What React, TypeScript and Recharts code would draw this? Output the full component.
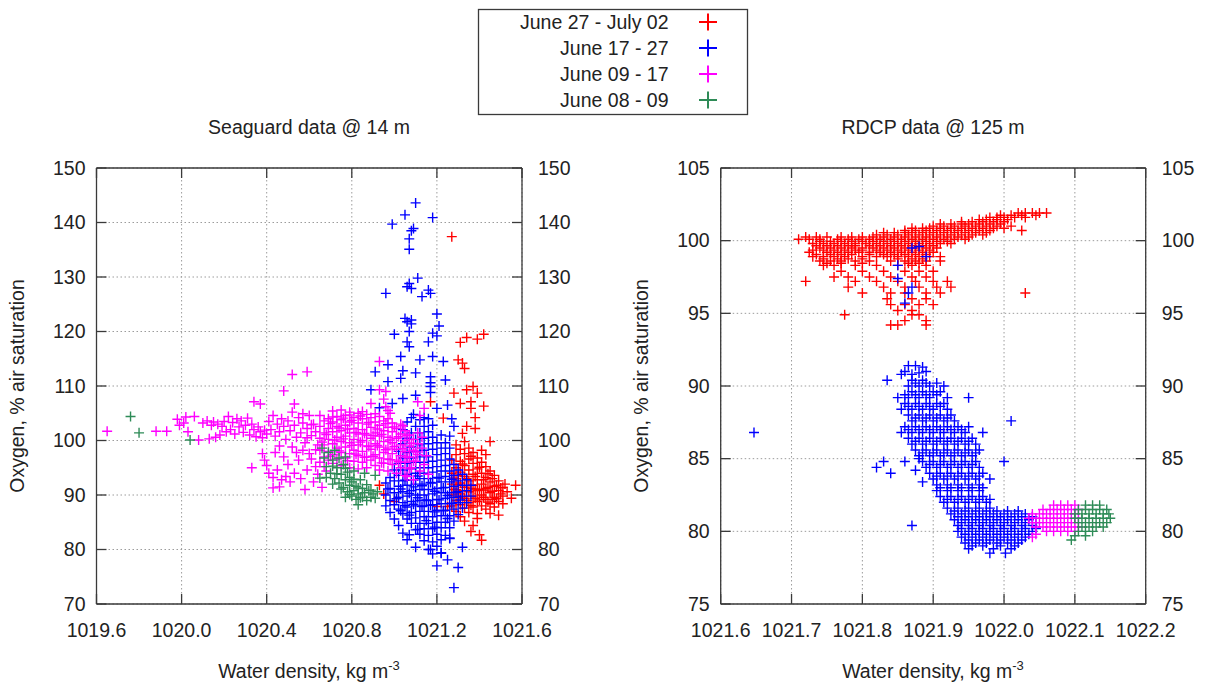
import React from "react";
import { CartesianGrid, Scatter, ScatterChart, XAxis, YAxis } from "recharts";

type Pt = [number, number];

// legend order = drawing order
const seriesNames = ["June 27 - July 02", "June 17 - 27", "June 09 - 17", "June 08 - 09"];
const seriesColors = ["#ff0000", "#0000ff", "#ff00ff", "#2e8b57"];

const panelTitles = ["Seaguard data @ 14 m", "RDCP data @ 125 m"];

const seaguardDensityTicks = [1019.6, 1020.0, 1020.4, 1020.8, 1021.2, 1021.6];
const seaguardOxygenTicks = [70, 80, 90, 100, 110, 120, 130, 140, 150];
const rdcpDensityTicks = [1021.6, 1021.7, 1021.8, 1021.9, 1022.0, 1022.1, 1022.2];
const rdcpOxygenTicks = [75, 80, 85, 90, 95, 100, 105];

// ---- Seaguard @ 14 m : [density, oxygen] ----
const seaguardRed: Pt[] = [
  [1021.27, 137.4], [1021.42, 119.5], [1021.39, 118.6], [1021.34, 118.9], [1021.31, 118.0], [1021.30, 114.8],
  [1021.32, 114.2], [1021.33, 113.2], [1021.28, 108.7], [1021.34, 109.3], [1021.37, 109.9], [1021.39, 108.7],
  [1021.31, 106.8], [1021.36, 107.1], [1021.42, 106.3], [1021.36, 105.9], [1021.38, 104.2], [1021.23, 104.1],
  [1021.17, 107.1], [1021.34, 102.6], [1021.32, 101.3], [1021.38, 102.2], [1021.45, 99.8],
  [1021.57, 91.8], [1021.55, 89.4], [1021.49, 86.3], [1021.41, 81.7], [1021.40, 82.7], [1021.36, 83.3],
  [1021.39, 85.7], [1021.31, 86.0], [1020.93, 91.8], [1020.95, 90.2], [1021.00, 88.8], [1021.20, 87.9], [1021.25, 87.9],
  [1021.27, 90.0], [1021.27, 92.0], [1021.27, 94.0], [1021.27, 96.4], [1021.27, 88.0],
  [1021.29, 89.0], [1021.29, 91.0], [1021.29, 93.0], [1021.29, 95.0], [1021.29, 97.4], [1021.29, 99.2], [1021.29, 87.0],
  [1021.31, 88.2], [1021.31, 90.2], [1021.31, 92.2], [1021.31, 94.2], [1021.31, 96.2], [1021.31, 98.4],
  [1021.33, 87.6], [1021.33, 89.4], [1021.33, 91.4], [1021.33, 93.4], [1021.33, 95.4], [1021.33, 97.6], [1021.33, 99.8], [1021.33, 85.2],
  [1021.35, 88.6], [1021.35, 90.6], [1021.35, 92.6], [1021.35, 94.6], [1021.35, 96.6], [1021.35, 98.6], [1021.35, 86.8],
  [1021.37, 87.8], [1021.37, 89.8], [1021.37, 91.8], [1021.37, 93.8], [1021.37, 95.8], [1021.37, 97.8], [1021.37, 84.4],
  [1021.39, 88.8], [1021.39, 90.8], [1021.39, 92.8], [1021.39, 94.8], [1021.39, 96.8], [1021.39, 86.6],
  [1021.41, 88.0], [1021.41, 90.0], [1021.41, 92.0], [1021.41, 94.0], [1021.41, 96.0], [1021.41, 98.2],
  [1021.43, 87.4], [1021.43, 89.2], [1021.43, 91.2], [1021.43, 93.2], [1021.43, 95.2], [1021.43, 97.4],
  [1021.45, 88.4], [1021.45, 90.4], [1021.45, 92.4], [1021.45, 94.4], [1021.45, 86.6],
  [1021.47, 89.6], [1021.47, 91.6], [1021.47, 93.6], [1021.47, 87.8],
  [1021.49, 88.8], [1021.49, 90.8], [1021.49, 92.6], [1021.51, 89.8], [1021.51, 91.4], [1021.51, 88.4], [1021.53, 90.6],
  [1021.28, 91.0], [1021.30, 89.6], [1021.32, 90.8], [1021.34, 89.0], [1021.36, 91.2], [1021.38, 89.4], [1021.40, 91.0],
  [1021.42, 89.6], [1021.44, 91.4], [1021.46, 89.2], [1021.48, 91.8], [1021.50, 90.2], [1021.52, 92.0],
  [1021.30, 93.6], [1021.34, 93.0], [1021.38, 93.4], [1021.42, 92.8], [1021.46, 93.0],
  [1021.28, 93.1], [1021.30, 91.9], [1021.32, 89.7], [1021.34, 91.7], [1021.36, 88.1], [1021.38, 91.1],
  [1021.40, 89.1], [1021.42, 90.9], [1021.44, 88.7], [1021.46, 90.7], [1021.48, 89.3], [1021.50, 91.3],
  [1021.44, 93.9], [1021.40, 95.1], [1021.32, 95.7], [1021.36, 97.1],
];

const seaguardBlue: Pt[] = [
  [1021.10, 143.6], [1021.05, 141.4], [1020.99, 139.7], [1021.18, 140.9], [1021.09, 138.9], [1021.08, 138.5],
  [1021.07, 137.0], [1021.07, 135.1], [1021.11, 129.8], [1021.07, 128.8], [1021.06, 128.2], [1021.08, 127.9],
  [1020.96, 127.0], [1021.16, 127.6], [1021.17, 127.0], [1021.13, 126.4], [1021.20, 123.2], [1021.21, 121.0],
  [1021.18, 119.7], [1021.20, 119.2], [1021.05, 122.4], [1021.08, 122.1], [1021.07, 120.0], [1021.00, 119.5],
  [1021.06, 118.1], [1021.03, 115.4], [1021.12, 114.8], [1021.16, 118.1], [1021.18, 115.4], [1021.23, 114.5],
  [1020.97, 113.9], [1020.91, 112.6], [1021.04, 112.8], [1021.10, 112.4], [1021.17, 111.7], [1021.17, 109.9],
  [1021.24, 111.1], [1020.89, 109.3], [1020.97, 110.8], [1021.03, 111.4], [1020.99, 106.8], [1021.04, 107.7],
  [1021.10, 108.3], [1021.20, 105.9], [1021.25, 106.5], [1021.08, 121.4], [1021.06, 121.8], [1021.07, 117.2],
  [1021.17, 110.6], [1021.17, 108.8], [1021.09, 104.8], [1021.14, 104.2], [1020.93, 106.0],
  [1021.26, 100.8], [1021.28, 102.6], [1021.27, 104.0], [1021.24, 99.6], [1021.26, 98.6],
  [1020.96, 90.0], [1020.96, 92.2], [1020.96, 88.0],
  [1020.98, 89.0], [1020.98, 91.2], [1020.98, 93.2], [1020.98, 86.8],
  [1021.00, 88.2], [1021.00, 90.4], [1021.00, 92.6], [1021.00, 94.6], [1021.00, 85.6],
  [1021.02, 87.4], [1021.02, 89.6], [1021.02, 91.6], [1021.02, 93.6], [1021.02, 95.8], [1021.02, 98.0], [1021.02, 84.4],
  [1021.04, 86.6], [1021.04, 88.6], [1021.04, 90.6], [1021.04, 92.6], [1021.04, 94.6], [1021.04, 96.8], [1021.04, 99.4], [1021.04, 102.0], [1021.04, 83.0],
  [1021.06, 85.6], [1021.06, 87.8], [1021.06, 89.8], [1021.06, 91.8], [1021.06, 93.8], [1021.06, 95.8], [1021.06, 97.8], [1021.06, 100.4], [1021.06, 103.4], [1021.06, 81.8],
  [1021.08, 84.8], [1021.08, 86.8], [1021.08, 88.8], [1021.08, 90.8], [1021.08, 92.8], [1021.08, 94.8], [1021.08, 96.8], [1021.08, 98.8], [1021.08, 101.4], [1021.08, 104.2],
  [1021.10, 83.6], [1021.10, 85.8], [1021.10, 88.0], [1021.10, 90.0], [1021.10, 92.0], [1021.10, 94.0], [1021.10, 96.0], [1021.10, 98.0], [1021.10, 100.2], [1021.10, 102.6], [1021.10, 80.4],
  [1021.12, 82.8], [1021.12, 84.8], [1021.12, 87.0], [1021.12, 89.0], [1021.12, 91.0], [1021.12, 93.0], [1021.12, 95.0], [1021.12, 97.0], [1021.12, 99.2], [1021.12, 101.4], [1021.12, 103.8],
  [1021.14, 81.6], [1021.14, 83.8], [1021.14, 86.0], [1021.14, 88.0], [1021.14, 90.0], [1021.14, 92.0], [1021.14, 94.0], [1021.14, 96.0], [1021.14, 98.2], [1021.14, 100.4], [1021.14, 102.6],
  [1021.16, 80.0], [1021.16, 82.6], [1021.16, 84.8], [1021.16, 87.0], [1021.16, 89.0], [1021.16, 91.0], [1021.16, 93.0], [1021.16, 95.0], [1021.16, 97.0], [1021.16, 99.4], [1021.16, 101.6], [1021.16, 104.0],
  [1021.18, 79.2], [1021.18, 81.4], [1021.18, 83.8], [1021.18, 86.0], [1021.18, 88.2], [1021.18, 90.2], [1021.18, 92.2], [1021.18, 94.2], [1021.18, 96.2], [1021.18, 98.4], [1021.18, 100.6], [1021.18, 102.8],
  [1021.20, 77.0], [1021.20, 80.6], [1021.20, 82.8], [1021.20, 85.0], [1021.20, 87.2], [1021.20, 89.2], [1021.20, 91.2], [1021.20, 93.2], [1021.20, 95.2], [1021.20, 97.4], [1021.20, 99.6],
  [1021.22, 79.4], [1021.22, 81.8], [1021.22, 84.0], [1021.22, 86.2], [1021.22, 88.4], [1021.22, 90.4], [1021.22, 92.4], [1021.22, 94.4], [1021.22, 96.4], [1021.22, 98.6], [1021.22, 101.0],
  [1021.24, 82.6], [1021.24, 85.0], [1021.24, 87.2], [1021.24, 89.4], [1021.24, 91.4], [1021.24, 93.4], [1021.24, 95.4], [1021.24, 97.6],
  [1021.26, 82.0], [1021.26, 84.0], [1021.26, 86.2], [1021.26, 88.4], [1021.26, 90.4], [1021.26, 92.4], [1021.26, 94.4], [1021.26, 96.6],
  [1021.28, 73.0], [1021.28, 85.2], [1021.28, 87.4], [1021.28, 89.6], [1021.28, 91.6], [1021.28, 93.6], [1021.28, 95.6],
  [1021.30, 76.7], [1021.30, 86.4], [1021.30, 88.6], [1021.30, 90.6], [1021.30, 92.6], [1021.30, 94.6],
  [1021.32, 80.4], [1021.32, 87.6], [1021.32, 89.8], [1021.32, 91.8], [1021.32, 93.8],
  [1021.34, 88.6], [1021.34, 90.8], [1021.34, 92.8], [1021.36, 89.8], [1021.36, 91.8],
  [1021.25, 78.1], [1021.22, 79.3], [1021.17, 80.0], [1021.07, 82.7], [1021.26, 82.1],
  [1021.01, 89.3], [1021.03, 91.1], [1021.05, 88.1], [1021.05, 92.7], [1021.07, 90.3], [1021.07, 86.3],
  [1021.09, 91.5], [1021.09, 88.3], [1021.11, 89.5], [1021.11, 93.5], [1021.13, 87.9], [1021.13, 91.7],
  [1021.15, 89.1], [1021.15, 85.3], [1021.17, 92.3], [1021.17, 88.1], [1021.19, 90.7], [1021.19, 86.9],
  [1021.21, 89.1], [1021.21, 93.1], [1021.23, 87.1], [1021.23, 91.3], [1021.25, 89.9], [1021.25, 85.7],
  [1021.27, 88.5], [1021.27, 92.9], [1021.29, 90.5], [1021.31, 89.1], [1021.11, 83.7], [1021.19, 84.1],
  [1021.03, 87.1], [1020.97, 91.1],
];

const seaguardMagenta: Pt[] = [
  [1019.65, 101.7], [1019.88, 101.7], [1019.93, 101.7], [1019.98, 103.9], [1020.02, 104.3], [1020.06, 104.4],
  [1020.03, 101.6], [1020.08, 100.1], [1020.13, 100.3], [1019.99, 102.8], [1020.01, 103.2],
  [1020.10, 103.2], [1020.12, 103.6], [1020.14, 102.8], [1020.15, 103.4], [1020.17, 103.0], [1020.19, 102.6],
  [1020.20, 103.5], [1020.22, 104.4], [1020.23, 102.0], [1020.24, 103.3], [1020.25, 101.2], [1020.26, 104.0],
  [1020.27, 102.5], [1020.28, 103.6], [1020.29, 101.5], [1020.30, 102.8], [1020.31, 104.1], [1020.32, 101.0],
  [1020.33, 103.0], [1020.34, 102.0], [1020.35, 100.7], [1020.36, 102.5], [1020.37, 101.6], [1020.38, 100.5],
  [1020.39, 101.9], [1020.40, 101.2], [1020.21, 101.6], [1020.18, 101.0], [1020.16, 100.6],
  [1020.33, 95.0], [1020.34, 107.1], [1020.37, 106.7], [1020.48, 109.1], [1020.53, 106.7], [1020.52, 112.1], [1020.59, 112.6],
  [1020.41, 103.5], [1020.42, 102.0], [1020.43, 104.6], [1020.44, 100.8], [1020.45, 103.0], [1020.46, 101.6],
  [1020.47, 104.0], [1020.48, 102.6], [1020.49, 100.2], [1020.50, 103.6], [1020.51, 101.8], [1020.52, 105.2],
  [1020.53, 102.8], [1020.54, 100.6], [1020.55, 104.2], [1020.56, 101.4], [1020.57, 103.2], [1020.58, 99.6],
  [1020.59, 102.2], [1020.60, 104.6], [1020.61, 100.9], [1020.62, 103.0], [1020.63, 101.6], [1020.64, 99.2],
  [1020.46, 99.0], [1020.52, 98.8], [1020.57, 98.2], [1020.60, 97.6], [1020.44, 97.8],
  [1020.38, 97.6], [1020.39, 96.4], [1020.40, 95.4], [1020.41, 94.0], [1020.43, 93.2], [1020.45, 94.6],
  [1020.47, 92.8], [1020.43, 91.3], [1020.46, 91.5], [1020.49, 93.4], [1020.50, 95.6], [1020.51, 92.4],
  [1020.53, 94.0], [1020.55, 96.4], [1020.56, 93.0], [1020.58, 91.0], [1020.59, 94.6], [1020.61, 96.6],
  [1020.62, 92.4], [1020.64, 93.8], [1020.66, 91.4], [1020.48, 97.0], [1020.54, 97.8], [1020.63, 95.2], [1020.68, 94.4],
  [1020.65, 96.0], [1020.65, 98.2], [1020.65, 100.4], [1020.65, 102.6], [1020.65, 104.6],
  [1020.67, 97.0], [1020.67, 99.2], [1020.67, 101.4], [1020.67, 103.6], [1020.67, 95.2],
  [1020.69, 98.0], [1020.69, 100.2], [1020.69, 102.2], [1020.69, 104.0], [1020.69, 96.4],
  [1020.71, 95.8], [1020.71, 97.4], [1020.71, 99.4], [1020.71, 101.6], [1020.71, 103.4], [1020.71, 105.4],
  [1020.73, 96.6], [1020.73, 98.6], [1020.73, 100.6], [1020.73, 102.6], [1020.73, 104.4],
  [1020.75, 95.4], [1020.75, 97.8], [1020.75, 99.8], [1020.75, 101.8], [1020.75, 103.8], [1020.75, 105.6],
  [1020.77, 96.8], [1020.77, 98.8], [1020.77, 100.8], [1020.77, 102.8], [1020.77, 104.6],
  [1020.79, 95.0], [1020.79, 97.6], [1020.79, 99.6], [1020.79, 101.4], [1020.79, 103.4], [1020.79, 105.2],
  [1020.81, 96.2], [1020.81, 98.2], [1020.81, 100.2], [1020.81, 102.2], [1020.81, 104.2],
  [1020.83, 94.8], [1020.83, 97.2], [1020.83, 99.2], [1020.83, 101.2], [1020.83, 103.2], [1020.83, 105.0],
  [1020.85, 96.0], [1020.85, 98.0], [1020.85, 100.0], [1020.85, 102.0], [1020.85, 104.0],
  [1020.87, 95.0], [1020.87, 97.0], [1020.87, 99.0], [1020.87, 101.0], [1020.87, 103.0], [1020.87, 104.8],
  [1020.89, 96.4], [1020.89, 98.4], [1020.89, 100.4], [1020.89, 102.4], [1020.89, 104.2], [1020.89, 106.8],
  [1020.91, 95.4], [1020.91, 97.4], [1020.91, 99.4], [1020.91, 101.4], [1020.91, 103.4],
  [1020.93, 94.6], [1020.93, 96.8], [1020.93, 98.8], [1020.93, 100.8], [1020.93, 102.8], [1020.93, 104.4],
  [1020.95, 95.8], [1020.95, 97.8], [1020.95, 99.8], [1020.95, 101.8], [1020.95, 103.6],
  [1020.97, 94.4], [1020.97, 96.6], [1020.97, 98.6], [1020.97, 100.6], [1020.97, 102.4], [1020.97, 104.0],
  [1020.99, 95.6], [1020.99, 97.6], [1020.99, 99.6], [1020.99, 101.6], [1020.99, 103.2],
  [1021.01, 94.0], [1021.01, 96.4], [1021.01, 98.4], [1021.01, 100.4], [1021.01, 102.2],
  [1021.03, 95.0], [1021.03, 97.2], [1021.03, 99.2], [1021.03, 101.2], [1021.03, 103.0],
  [1021.05, 93.6], [1021.05, 96.0], [1021.05, 98.0], [1021.05, 100.0], [1021.05, 101.8],
  [1021.07, 94.8], [1021.07, 97.0], [1021.07, 99.0], [1021.07, 101.0],
  [1021.09, 96.2], [1021.09, 98.2], [1021.09, 100.2], [1021.09, 92.8],
  [1021.11, 97.4], [1021.11, 99.4], [1021.11, 101.4], [1021.13, 98.6], [1021.13, 100.6],
  [1020.93, 109.3], [1020.95, 107.6], [1020.96, 106.2], [1020.98, 105.0], [1020.93, 114.5], [1020.96, 109.0],
  [1021.11, 107.1], [1021.14, 105.9], [1021.12, 104.6],
  [1021.08, 95.0], [1021.10, 96.2], [1021.12, 94.4], [1021.14, 95.6], [1021.16, 93.8], [1021.06, 93.4], [1021.15, 97.2],
  [1020.66, 99.7], [1020.68, 101.1], [1020.70, 103.1], [1020.70, 97.1], [1020.72, 100.1], [1020.74, 102.3],
  [1020.74, 98.1], [1020.76, 104.1], [1020.76, 100.3], [1020.78, 96.3], [1020.78, 102.1], [1020.80, 99.1],
  [1020.80, 103.7], [1020.82, 97.5], [1020.82, 101.5], [1020.84, 99.7], [1020.84, 104.5], [1020.86, 96.9],
  [1020.86, 101.3], [1020.88, 98.9], [1020.88, 103.3], [1020.90, 100.9], [1020.90, 97.1], [1020.92, 102.1],
  [1020.92, 99.1], [1020.94, 95.9], [1020.94, 101.1], [1020.96, 98.3], [1020.96, 103.1], [1020.98, 100.1],
  [1020.98, 96.5], [1021.00, 102.5], [1021.00, 98.9], [1021.02, 100.7], [1021.02, 96.1], [1021.04, 98.5],
  [1021.04, 102.7], [1021.06, 100.9], [1021.06, 96.9], [1021.08, 99.5], [1021.10, 97.9], [1020.71, 104.3],
  [1020.79, 104.7], [1020.85, 105.3], [1020.91, 104.9], [1020.97, 105.5], [1020.63, 98.3], [1020.61, 102.9],
  [1020.59, 100.5], [1020.57, 104.9],
];

const seaguardGreen: Pt[] = [
  [1019.76, 104.4], [1019.80, 101.4], [1020.04, 100.1],
  [1020.66, 98.6], [1020.67, 96.8], [1020.68, 95.2], [1020.69, 97.8], [1020.70, 94.0], [1020.71, 96.4],
  [1020.72, 93.0], [1020.72, 98.2], [1020.73, 95.0], [1020.74, 92.2], [1020.74, 96.8], [1020.75, 93.8],
  [1020.76, 91.4], [1020.76, 95.6], [1020.77, 92.8], [1020.77, 97.0], [1020.78, 90.6], [1020.78, 94.2],
  [1020.79, 91.8], [1020.79, 93.2], [1020.80, 89.8], [1020.80, 92.4], [1020.81, 90.8], [1020.81, 94.4],
  [1020.82, 89.2], [1020.82, 91.6], [1020.83, 88.2], [1020.83, 90.2], [1020.84, 92.8], [1020.85, 89.6],
  [1020.85, 91.2], [1020.86, 90.4], [1020.86, 94.0], [1020.87, 89.0], [1020.88, 90.8], [1020.89, 89.6],
  [1020.90, 90.2], [1020.91, 89.4], [1020.91, 93.6], [1020.92, 90.6], [1020.68, 93.2], [1020.65, 93.1],
  [1020.77, 89.6], [1020.71, 92.0],
  [1020.73, 93.9], [1020.75, 91.1], [1020.77, 94.9], [1020.79, 90.1], [1020.81, 92.9], [1020.83, 91.3],
  [1020.84, 89.5], [1020.87, 91.9], [1020.89, 90.9], [1020.71, 95.3],
];

// ---- RDCP @ 125 m : [density, oxygen] ----
const rdcpRed: Pt[] = [
  [1022.02, 101.9], [1022.03, 101.9], [1022.04, 101.9], [1022.05, 101.9], [1022.06, 101.9],
  [1021.98, 101.6], [1021.99, 101.6], [1022.00, 101.6], [1022.015, 101.6], [1022.03, 101.6],
  [1021.94, 101.3], [1021.955, 101.3], [1021.97, 101.3], [1021.985, 101.3], [1022.00, 101.3],
  [1021.90, 101.0], [1021.915, 101.0], [1021.93, 101.0], [1021.945, 101.0], [1021.96, 101.0], [1021.975, 101.0], [1021.99, 101.0], [1022.01, 101.0],
  [1021.86, 100.7], [1021.875, 100.7], [1021.89, 100.7], [1021.905, 100.7], [1021.92, 100.7], [1021.935, 100.7], [1021.95, 100.7], [1021.965, 100.7], [1021.98, 100.7], [1022.025, 100.7],
  [1021.82, 100.4], [1021.835, 100.4], [1021.85, 100.4], [1021.865, 100.4], [1021.88, 100.4], [1021.895, 100.4], [1021.91, 100.4], [1021.925, 100.4], [1021.94, 100.4], [1021.955, 100.4], [1021.97, 100.4],
  [1021.71, 100.1], [1021.725, 100.1], [1021.74, 100.1], [1021.765, 100.1], [1021.78, 100.1], [1021.795, 100.1], [1021.81, 100.1], [1021.825, 100.1],
  [1021.84, 100.1], [1021.855, 100.1], [1021.87, 100.1], [1021.885, 100.1], [1021.90, 100.1], [1021.915, 100.1], [1021.93, 100.1], [1021.945, 100.1],
  [1021.73, 99.8], [1021.745, 99.8], [1021.76, 99.8], [1021.775, 99.8], [1021.79, 99.8], [1021.805, 99.8], [1021.82, 99.8],
  [1021.835, 99.8], [1021.85, 99.8], [1021.865, 99.8], [1021.88, 99.8], [1021.895, 99.8], [1021.91, 99.8], [1021.925, 99.8],
  [1021.74, 99.5], [1021.755, 99.5], [1021.77, 99.5], [1021.785, 99.5], [1021.80, 99.5], [1021.815, 99.5],
  [1021.83, 99.5], [1021.845, 99.5], [1021.86, 99.5], [1021.875, 99.5], [1021.89, 99.5], [1021.905, 99.5],
  [1021.725, 99.2], [1021.75, 99.2], [1021.765, 99.2], [1021.78, 99.2], [1021.795, 99.2], [1021.81, 99.2],
  [1021.825, 99.2], [1021.84, 99.2], [1021.855, 99.2], [1021.87, 99.2], [1021.885, 99.2], [1021.90, 99.2],
  [1021.73, 98.9], [1021.745, 98.9], [1021.76, 98.9], [1021.775, 98.9], [1021.80, 98.9], [1021.82, 98.9],
  [1021.835, 98.9], [1021.85, 98.9], [1021.865, 98.9], [1021.88, 98.9], [1021.895, 98.9], [1021.91, 98.9],
  [1021.74, 98.6], [1021.755, 98.6], [1021.77, 98.6], [1021.79, 98.6], [1021.81, 98.6], [1021.84, 98.6],
  [1021.86, 98.6], [1021.875, 98.6], [1021.89, 98.6], [1021.91, 98.6],
  [1021.745, 98.3], [1021.76, 98.3], [1021.79, 98.3], [1021.82, 98.3], [1021.85, 98.3], [1021.87, 98.3], [1021.89, 98.3],
  [1021.77, 97.9], [1021.80, 97.9], [1021.83, 97.9], [1021.86, 97.9], [1021.88, 97.9], [1021.90, 97.9],
  [1021.76, 97.5], [1021.78, 97.5], [1021.81, 97.5], [1021.84, 97.5], [1021.87, 97.5], [1021.89, 97.5],
  [1021.72, 97.2], [1021.79, 97.2], [1021.82, 97.2], [1021.85, 97.2], [1021.875, 97.2], [1021.90, 97.2], [1021.92, 97.2],
  [1021.78, 96.8], [1021.83, 96.8], [1021.86, 96.8], [1021.88, 96.8], [1021.905, 96.8], [1021.925, 96.8],
  [1021.80, 96.4], [1021.84, 96.4], [1021.86, 96.4], [1021.89, 96.4], [1021.91, 96.4], [1022.03, 96.4],
  [1021.835, 96.0], [1021.87, 96.0], [1021.89, 96.0],
  [1021.84, 95.6], [1021.86, 95.6], [1021.88, 95.6], [1021.90, 95.6],
  [1021.85, 95.2], [1021.87, 95.2], [1021.775, 94.9], [1021.87, 94.9], [1021.88, 94.9],
  [1021.86, 94.5], [1021.89, 94.5], [1021.84, 94.2], [1021.85, 94.2], [1021.89, 94.2],
  [1021.995, 101.75], [1022.01, 101.75], [1022.025, 101.75], [1022.045, 101.75],
  [1021.965, 101.45], [1021.975, 101.45], [1021.99, 101.45], [1022.005, 101.45],
  [1021.91, 101.15], [1021.925, 101.15], [1021.94, 101.15], [1021.95, 101.15], [1021.965, 101.15], [1021.98, 101.15], [1021.995, 101.15],
  [1021.87, 100.85], [1021.885, 100.85], [1021.895, 100.85], [1021.91, 100.85], [1021.925, 100.85], [1021.94, 100.85], [1021.955, 100.85], [1021.97, 100.85], [1021.985, 100.85], [1022.0, 100.85],
  [1021.83, 100.55], [1021.845, 100.55], [1021.86, 100.55], [1021.87, 100.55], [1021.885, 100.55], [1021.90, 100.55], [1021.915, 100.55], [1021.93, 100.55], [1021.945, 100.55], [1021.96, 100.55], [1021.975, 100.55],
  [1021.72, 100.25], [1021.735, 100.25], [1021.75, 100.25], [1021.77, 100.25], [1021.785, 100.25], [1021.80, 100.25], [1021.815, 100.25], [1021.83, 100.25],
  [1021.845, 100.25], [1021.86, 100.25], [1021.875, 100.25], [1021.89, 100.25], [1021.905, 100.25], [1021.92, 100.25], [1021.935, 100.25], [1021.95, 100.25],
  [1021.74, 99.95], [1021.755, 99.95], [1021.77, 99.95], [1021.785, 99.95], [1021.80, 99.95], [1021.815, 99.95], [1021.83, 99.95],
  [1021.845, 99.95], [1021.86, 99.95], [1021.875, 99.95], [1021.89, 99.95], [1021.905, 99.95], [1021.92, 99.95],
  [1021.735, 99.65], [1021.75, 99.65], [1021.765, 99.65], [1021.78, 99.65], [1021.79, 99.65], [1021.81, 99.65],
  [1021.825, 99.65], [1021.84, 99.65], [1021.855, 99.65], [1021.87, 99.65], [1021.885, 99.65], [1021.90, 99.65],
  [1021.73, 99.35], [1021.745, 99.35], [1021.76, 99.35], [1021.775, 99.35], [1021.79, 99.35], [1021.80, 99.35],
  [1021.82, 99.35], [1021.835, 99.35], [1021.85, 99.35], [1021.865, 99.35], [1021.88, 99.35], [1021.895, 99.35],
  [1021.735, 99.05], [1021.755, 99.05], [1021.77, 99.05], [1021.785, 99.05], [1021.81, 99.05], [1021.83, 99.05],
  [1021.845, 99.05], [1021.86, 99.05], [1021.875, 99.05], [1021.89, 99.05],
  [1021.745, 98.75], [1021.765, 98.75], [1021.78, 98.75], [1021.80, 98.75], [1021.85, 98.75], [1021.87, 98.75], [1021.885, 98.75],
  [1021.75, 98.45], [1021.77, 98.45], [1021.80, 98.45], [1021.865, 98.45], [1021.88, 98.45],
];

const rdcpBlue: Pt[] = [
  [1021.87, 99.5], [1021.88, 99.6], [1021.89, 98.9], [1021.85, 98.3], [1021.85, 97.4], [1021.87, 96.8], [1021.865, 96.4], [1021.86, 95.7],
  [1021.865, 91.4], [1021.875, 91.4], [1021.885, 91.3],
  [1021.855, 90.8], [1021.870, 90.8], [1021.880, 90.9],
  [1021.835, 90.4], [1021.870, 90.4], [1021.885, 90.4],
  [1021.865, 90.0], [1021.880, 90.0], [1021.895, 90.0], [1021.915, 90.0],
  [1021.870, 89.6], [1021.885, 89.6], [1021.900, 89.6], [1021.910, 89.6],
  [1021.850, 89.2], [1021.865, 89.2], [1021.880, 89.2], [1021.895, 89.2], [1021.920, 89.2], [1021.950, 89.2],
  [1021.860, 88.8], [1021.875, 88.8], [1021.890, 88.8], [1021.905, 88.8], [1021.915, 88.8],
  [1021.855, 88.4], [1021.870, 88.4], [1021.885, 88.4], [1021.900, 88.4], [1021.920, 88.4],
  [1021.865, 88.0], [1021.880, 88.0], [1021.895, 88.0], [1021.910, 88.0], [1021.925, 88.0],
  [1021.870, 87.6], [1021.885, 87.6], [1021.900, 87.6], [1021.915, 87.6], [1021.930, 87.6], [1022.010, 87.6],
  [1021.860, 87.2], [1021.875, 87.2], [1021.890, 87.2], [1021.905, 87.2], [1021.920, 87.2], [1021.935, 87.2], [1021.950, 87.2],
  [1021.855, 86.8], [1021.870, 86.8], [1021.885, 86.8], [1021.900, 86.8], [1021.915, 86.8], [1021.930, 86.8], [1021.945, 86.8], [1021.970, 86.8], [1021.647, 86.8],
  [1021.865, 86.4], [1021.880, 86.4], [1021.895, 86.4], [1021.910, 86.4], [1021.925, 86.4], [1021.940, 86.4], [1021.955, 86.4],
  [1021.870, 86.0], [1021.885, 86.0], [1021.900, 86.0], [1021.915, 86.0], [1021.930, 86.0], [1021.945, 86.0], [1021.960, 86.0],
  [1021.875, 85.6], [1021.890, 85.6], [1021.905, 85.6], [1021.920, 85.6], [1021.935, 85.6], [1021.950, 85.6], [1021.965, 85.6],
  [1021.880, 85.2], [1021.895, 85.2], [1021.910, 85.2], [1021.925, 85.2], [1021.940, 85.2], [1021.955, 85.2],
  [1021.830, 84.8], [1021.860, 84.8], [1021.885, 84.8], [1021.900, 84.8], [1021.915, 84.8], [1021.930, 84.8], [1021.945, 84.8], [1021.960, 84.8], [1022.000, 84.8],
  [1021.820, 84.4], [1021.890, 84.4], [1021.905, 84.4], [1021.920, 84.4], [1021.935, 84.4], [1021.950, 84.4], [1021.965, 84.4],
  [1021.840, 84.0], [1021.895, 84.0], [1021.910, 84.0], [1021.925, 84.0], [1021.940, 84.0], [1021.955, 84.0], [1021.970, 84.0],
  [1021.900, 83.6], [1021.915, 83.6], [1021.930, 83.6], [1021.945, 83.6], [1021.960, 83.6], [1021.980, 83.6],
  [1021.905, 83.2], [1021.920, 83.2], [1021.935, 83.2], [1021.950, 83.2], [1021.965, 83.2],
  [1021.905, 82.8], [1021.920, 82.8], [1021.935, 82.8], [1021.950, 82.8], [1021.965, 82.8],
  [1021.910, 82.4], [1021.925, 82.4], [1021.940, 82.4], [1021.955, 82.4], [1021.970, 82.4],
  [1021.915, 82.0], [1021.930, 82.0], [1021.945, 82.0], [1021.960, 82.0], [1021.975, 82.0],
  [1021.920, 81.6], [1021.935, 81.6], [1021.950, 81.6], [1021.965, 81.6], [1021.980, 81.6],
  [1021.925, 81.2], [1021.940, 81.2], [1021.955, 81.2], [1021.970, 81.2], [1021.985, 81.2], [1022.000, 81.2], [1022.015, 81.2], [1022.030, 81.2],
  [1021.930, 80.8], [1021.945, 80.8], [1021.960, 80.8], [1021.975, 80.8], [1021.990, 80.8], [1022.005, 80.8], [1022.020, 80.8], [1022.035, 80.8],
  [1021.870, 80.4], [1021.935, 80.4], [1021.950, 80.4], [1021.965, 80.4], [1021.980, 80.4], [1021.995, 80.4], [1022.010, 80.4], [1022.025, 80.4], [1022.040, 80.4],
  [1021.935, 80.0], [1021.950, 80.0], [1021.965, 80.0], [1021.980, 80.0], [1021.995, 80.0], [1022.010, 80.0], [1022.025, 80.0], [1022.040, 80.0],
  [1021.940, 79.6], [1021.955, 79.6], [1021.970, 79.6], [1021.985, 79.6], [1022.000, 79.6], [1022.015, 79.6], [1022.030, 79.6],
  [1021.945, 79.2], [1021.960, 79.2], [1021.975, 79.2], [1021.990, 79.2], [1022.005, 79.2], [1022.020, 79.2],
  [1021.950, 78.8], [1021.985, 78.8], [1022.010, 78.8], [1021.980, 78.5], [1022.002, 78.5],
  [1021.86, 91.0], [1021.89, 91.0], [1021.875, 90.2], [1021.89, 90.2], [1021.905, 90.2],
  [1021.86, 89.4], [1021.875, 89.4], [1021.89, 89.4], [1021.905, 89.4],
  [1021.865, 88.6], [1021.88, 88.6], [1021.895, 88.6], [1021.91, 88.6],
  [1021.875, 87.8], [1021.89, 87.8], [1021.905, 87.8], [1021.92, 87.8],
  [1021.865, 87.0], [1021.88, 87.0], [1021.895, 87.0], [1021.91, 87.0], [1021.925, 87.0], [1021.94, 87.0],
  [1021.875, 86.2], [1021.89, 86.2], [1021.905, 86.2], [1021.92, 86.2], [1021.935, 86.2], [1021.95, 86.2],
  [1021.885, 85.4], [1021.90, 85.4], [1021.915, 85.4], [1021.93, 85.4], [1021.945, 85.4], [1021.96, 85.4],
  [1021.895, 84.6], [1021.91, 84.6], [1021.925, 84.6], [1021.94, 84.6], [1021.955, 84.6],
  [1021.905, 83.8], [1021.92, 83.8], [1021.935, 83.8], [1021.95, 83.8], [1021.965, 83.8],
  [1021.91, 83.0], [1021.925, 83.0], [1021.94, 83.0], [1021.955, 83.0], [1021.97, 83.0],
  [1021.92, 82.2], [1021.935, 82.2], [1021.95, 82.2], [1021.965, 82.2], [1021.98, 82.2],
  [1021.93, 81.4], [1021.945, 81.4], [1021.96, 81.4], [1021.975, 81.4], [1021.99, 81.4], [1022.005, 81.4], [1022.02, 81.4],
  [1021.935, 81.0], [1021.95, 81.0], [1021.965, 81.0], [1021.98, 81.0], [1021.995, 81.0], [1022.01, 81.0], [1022.025, 81.0], [1022.04, 81.0],
  [1021.94, 80.6], [1021.955, 80.6], [1021.97, 80.6], [1021.985, 80.6], [1022.0, 80.6], [1022.015, 80.6], [1022.03, 80.6], [1022.045, 80.6],
  [1021.94, 80.2], [1021.955, 80.2], [1021.97, 80.2], [1021.985, 80.2], [1022.0, 80.2], [1022.015, 80.2], [1022.03, 80.2], [1022.045, 80.2],
  [1021.945, 79.8], [1021.96, 79.8], [1021.975, 79.8], [1021.99, 79.8], [1022.005, 79.8], [1022.02, 79.8], [1022.035, 79.8],
  [1021.95, 79.4], [1021.965, 79.4], [1021.98, 79.4], [1021.995, 79.4], [1022.01, 79.4], [1022.025, 79.4],
  [1021.955, 79.0], [1021.97, 79.0], [1021.995, 79.0], [1022.015, 79.0],
  [1021.875, 84.2], [1021.88, 85.0], [1021.885, 83.4],
];

const rdcpMagenta: Pt[] = [
  [1022.07, 81.8], [1022.08, 81.8], [1022.09, 81.8], [1022.10, 81.8],
  [1022.055, 81.5], [1022.065, 81.5], [1022.075, 81.5], [1022.085, 81.5], [1022.095, 81.5], [1022.105, 81.5],
  [1022.04, 81.2], [1022.05, 81.2], [1022.06, 81.2], [1022.07, 81.2], [1022.08, 81.2], [1022.09, 81.2], [1022.10, 81.2],
  [1022.035, 80.9], [1022.045, 80.9], [1022.055, 80.9], [1022.065, 80.9], [1022.075, 80.9], [1022.085, 80.9], [1022.095, 80.9], [1022.105, 80.9],
  [1022.04, 80.6], [1022.05, 80.6], [1022.06, 80.6], [1022.07, 80.6], [1022.08, 80.6], [1022.09, 80.6], [1022.10, 80.6],
  [1022.045, 80.3], [1022.055, 80.3], [1022.065, 80.3], [1022.075, 80.3], [1022.085, 80.3], [1022.095, 80.3], [1022.105, 80.3],
  [1022.06, 80.0], [1022.07, 80.0], [1022.08, 80.0], [1022.09, 80.0], [1022.10, 80.0],
  [1022.04, 79.6], [1022.045, 79.8],
];

const rdcpGreen: Pt[] = [
  [1022.115, 81.8], [1022.125, 81.8], [1022.135, 81.8],
  [1022.105, 81.5], [1022.115, 81.5], [1022.125, 81.5], [1022.135, 81.5], [1022.145, 81.5],
  [1022.10, 81.2], [1022.11, 81.2], [1022.12, 81.2], [1022.13, 81.2], [1022.14, 81.2], [1022.148, 81.2],
  [1022.10, 80.9], [1022.11, 80.9], [1022.12, 80.9], [1022.13, 80.9], [1022.14, 80.9], [1022.15, 80.9],
  [1022.105, 80.6], [1022.115, 80.6], [1022.125, 80.6], [1022.135, 80.6], [1022.145, 80.6],
  [1022.11, 80.3], [1022.12, 80.3], [1022.13, 80.3], [1022.14, 80.3],
  [1022.105, 80.0], [1022.115, 80.0], [1022.125, 80.0],
  [1022.10, 79.7], [1022.115, 79.7], [1022.095, 79.4],
];

const FONT = "'Liberation Sans', Arial, Helvetica, sans-serif";
const FONT_SIZE = 19.5;
const TEXT = "#222";
const FRAME = "#3a3a3a";
const TICK_LEN = 10;
const HEIGHT = 685;

const toPoints = (pts: Pt[]) => pts.map(([x, y]) => ({ x, y }));

const plus = (color: string) => (props: any) => {
  const { cx, cy } = props;
  if (cx == null || cy == null) return <g />;
  return (
    <path d={`M${cx - 5},${cy}H${cx + 5}M${cx},${cy - 5}V${cy + 5}`} stroke={color} strokeWidth={1.4} fill="none" />
  );
};

const bottomTick = (digits: number) => (props: any) => {
  const { x, y, payload } = props;
  return (
    <g>
      <line x1={x} y1={y} x2={x} y2={y - TICK_LEN} stroke={FRAME} strokeWidth={1.3} />
      <text x={x} y={y + 32.5} textAnchor="middle" fontFamily={FONT} fontSize={FONT_SIZE} fill={TEXT}>
        {Number(payload.value).toFixed(digits)}
      </text>
    </g>
  );
};

const topTick = (props: any) => {
  const { x, y } = props;
  return <line x1={x} y1={y} x2={x} y2={y + TICK_LEN} stroke={FRAME} strokeWidth={1.3} />;
};

const leftTick = (props: any) => {
  const { x, y, payload } = props;
  return (
    <g>
      <line x1={x} y1={y} x2={x + TICK_LEN} y2={y} stroke={FRAME} strokeWidth={1.3} />
      <text x={x - 11} y={y + 6.8} textAnchor="end" fontFamily={FONT} fontSize={FONT_SIZE} fill={TEXT}>
        {payload.value}
      </text>
    </g>
  );
};

const rightTick = (props: any) => {
  const { x, y, payload } = props;
  return (
    <g>
      <line x1={x} y1={y} x2={x - TICK_LEN} y2={y} stroke={FRAME} strokeWidth={1.3} />
      <text x={x + 16} y={y + 6.8} textAnchor="start" fontFamily={FONT} fontSize={FONT_SIZE} fill={TEXT}>
        {payload.value}
      </text>
    </g>
  );
};

interface PanelProps {
  left: number;
  width: number;
  marginLeft: number;
  marginRight: number;
  rightAxisWidth: number;
  xDomain: [number, number];
  xTicks: number[];
  yDomain: [number, number];
  yTicks: number[];
  series: Pt[][];
}

const Panel = ({ left, width, marginLeft, marginRight, rightAxisWidth, xDomain, xTicks, yDomain, yTicks, series }: PanelProps) => {
  const axisLine = { stroke: FRAME, strokeWidth: 1.3 };
  return (
    <div style={{ position: "absolute", left, top: 0, width, height: HEIGHT }}>
      <ScatterChart width={width} height={HEIGHT} margin={{ top: 158, right: marginRight, bottom: 41, left: marginLeft }}>
        <CartesianGrid xAxisId="b" yAxisId="l" stroke="#9c9c9c" strokeDasharray="1.5 2.5" />
        <XAxis xAxisId="b" orientation="bottom" type="number" dataKey="x" domain={xDomain} ticks={xTicks} interval={0}
          allowDataOverflow height={40} tickSize={0} tickMargin={0} tickLine={false} axisLine={axisLine} tick={bottomTick(1)} />
        <XAxis xAxisId="t" orientation="top" type="number" dataKey="x" domain={xDomain} ticks={xTicks} interval={0}
          allowDataOverflow height={10} tickSize={0} tickMargin={0} tickLine={false} axisLine={axisLine} tick={topTick} />
        <YAxis yAxisId="l" orientation="left" type="number" dataKey="y" domain={yDomain} ticks={yTicks} interval={0}
          allowDataOverflow width={60} tickSize={0} tickMargin={0} tickLine={false} axisLine={axisLine} tick={leftTick} />
        <YAxis yAxisId="r" orientation="right" type="number" dataKey="y" domain={yDomain} ticks={yTicks} interval={0}
          allowDataOverflow width={rightAxisWidth} tickSize={0} tickMargin={0} tickLine={false} axisLine={axisLine} tick={rightTick} />
        {series.map((pts, i) => (
          <Scatter key={seriesNames[i]} name={seriesNames[i]} data={toPoints(pts)} xAxisId="b" yAxisId="l"
            isAnimationActive={false} shape={plus(seriesColors[i])} />
        ))}
      </ScatterChart>
    </div>
  );
};

const Overlay = () => {
  const textProps = { fontFamily: FONT, fontSize: FONT_SIZE, fill: TEXT };
  const centers = [309, 933];
  const yLabelX = [23.5, 648];
  return (
    <svg width={1205} height={HEIGHT} style={{ position: "absolute", left: 0, top: 0, pointerEvents: "none" }}>
      {panelTitles.map((t, i) => (
        <text key={t} x={centers[i]} y={134} textAnchor="middle" {...textProps}>{t}</text>
      ))}
      {centers.map((cx) => (
        <text key={"xl" + cx} x={cx} y={678} textAnchor="middle" {...textProps}>
          Water density, kg m<tspan dy={-8} fontSize={13}>-3</tspan>
        </text>
      ))}
      {yLabelX.map((x) => (
        <text key={"yl" + x} x={x} y={386} textAnchor="middle" transform={`rotate(-90 ${x} 386)`} {...textProps}>
          Oxygen, % air saturation
        </text>
      ))}
      <rect x={478.5} y={9.5} width={269} height={105} fill="#fff" stroke={FRAME} strokeWidth={1.3} />
      {seriesNames.map((name, i) => (
        <g key={name}>
          <text x={668.5} y={29 + i * 26} textAnchor="end" {...textProps}>{name}</text>
          <path d={`M${699},${22 + i * 26}H${717}M${708},${13.5 + i * 26}V${30.5 + i * 26}`}
            stroke={seriesColors[i]} strokeWidth={2} fill="none" />
        </g>
      ))}
    </svg>
  );
};

export default function App() {
  return (
    <div style={{ position: "absolute", left: 0, top: 0, width: 1205, height: HEIGHT, background: "#fff" }}>
      <Panel left={0} width={620} marginLeft={36.5} marginRight={38} rightAxisWidth={60}
        xDomain={[1019.6, 1021.6]} xTicks={seaguardDensityTicks} yDomain={[70, 150]} yTicks={seaguardOxygenTicks}
        series={[seaguardRed, seaguardBlue, seaguardMagenta, seaguardGreen]} />
      <Panel left={620} width={585} marginLeft={40.7} marginRight={4.3} rightAxisWidth={55}
        xDomain={[1021.6, 1022.2]} xTicks={rdcpDensityTicks} yDomain={[75, 105]} yTicks={rdcpOxygenTicks}
        series={[rdcpRed, rdcpBlue, rdcpMagenta, rdcpGreen]} />
      <Overlay />
    </div>
  );
}
